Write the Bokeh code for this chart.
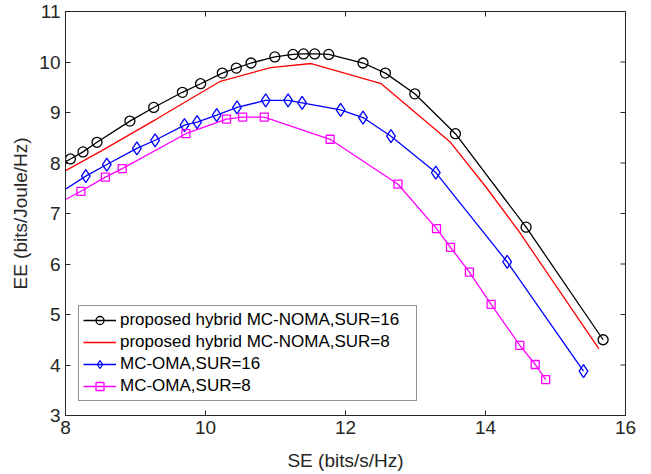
import math
from bokeh.plotting import figure
from bokeh.models import Range1d, FixedTicker, Legend
from bokeh.embed import file_html
from bokeh.resources import INLINE

# ---- data ----
black_x = [7.85, 8.07, 8.25, 8.45, 8.92, 9.26, 9.67, 9.93, 10.24, 10.44, 10.65, 10.99,
           11.25, 11.40, 11.56, 11.76, 12.25, 12.57, 12.99, 13.57, 14.58, 15.68]
black_y = [7.91, 8.08, 8.22, 8.41, 8.83, 9.10, 9.40, 9.57, 9.78, 9.88, 9.98, 10.10,
           10.15, 10.16, 10.16, 10.15, 9.98, 9.78, 9.37, 8.58, 6.73, 4.50]

red_x = [7.9, 8.5, 9.3, 10.2, 10.93, 11.51, 12.51, 13.5, 14.02, 14.48, 15.62]
red_y = [7.77, 8.23, 8.87, 9.61, 9.89, 9.97, 9.57, 8.41, 7.50, 6.64, 4.32]

blue_x = [7.9, 8.29, 8.59, 9.02, 9.28, 9.70, 9.88, 10.16, 10.45, 10.86, 11.18, 11.38,
          11.93, 12.25, 12.65, 13.29, 14.31, 15.40]
blue_y = [7.39, 7.74, 7.97, 8.29, 8.45, 8.75, 8.81, 8.95, 9.10, 9.24, 9.24, 9.19,
          9.05, 8.90, 8.53, 7.81, 6.04, 3.88]

mag_x = [7.9, 8.22, 8.57, 8.81, 9.72, 10.30, 10.53, 10.84, 11.78, 12.75, 13.30, 13.50,
         13.77, 14.08, 14.49, 14.71, 14.86]
mag_y = [7.20, 7.44, 7.72, 7.89, 8.58, 8.87, 8.91, 8.91, 8.47, 7.58, 6.70, 6.33,
         5.84, 5.20, 4.39, 4.01, 3.71]

labels = ["proposed hybrid MC-NOMA,SUR=16", "proposed hybrid MC-NOMA,SUR=8",
          "MC-OMA,SUR=16", "MC-OMA,SUR=8"]
x_ticks = [8, 10, 12, 14, 16]
y_ticks = [3, 4, 5, 6, 7, 8, 9, 10, 11]

FONT = "Liberation Sans"
TXT = "#262626"

p = figure(frame_width=560, frame_height=404, output_backend="svg", toolbar_location=None,
           x_range=Range1d(x_ticks[0], x_ticks[-1]), y_range=Range1d(y_ticks[0], y_ticks[-1]),
           min_border_left=65, min_border_right=16, min_border_top=11, min_border_bottom=57)
p.xgrid.visible = False
p.ygrid.visible = False
p.outline_line_color = TXT
p.outline_line_width = 1
p.background_fill_color = "white"
p.border_fill_color = "white"

lw = 1.3
l1 = p.line(black_x, black_y, color="black", line_width=lw)
m1 = p.scatter(black_x, black_y, marker="circle", size=10, fill_color=None,
               line_color="black", line_width=lw)
l2 = p.line(red_x, red_y, color="#ff0000", line_width=lw)
l3 = p.line(blue_x, blue_y, color="#0000ff", line_width=lw)
m3 = p.scatter(blue_x, blue_y, marker="diamond", size=13, fill_color=None,
               line_color="#0000ff", line_width=lw)
l4 = p.line(mag_x, mag_y, color="#ff00ff", line_width=lw)
m4 = p.scatter(mag_x, mag_y, marker="square", size=8, fill_color=None,
               line_color="#ff00ff", line_width=lw)

# inward ticks on the top and right edges of the box (half of each dash is clipped)
p.scatter(x_ticks, [y_ticks[-1]] * len(x_ticks), marker="dash", size=10,
          angle=math.pi / 2, line_color=TXT, line_width=1)
p.scatter([x_ticks[-1]] * len(y_ticks), y_ticks, marker="dash", size=10,
          line_color=TXT, line_width=1)

for ax, ticks in ((p.xaxis[0], x_ticks), (p.yaxis[0], y_ticks)):
    ax.ticker = FixedTicker(ticks=ticks)
    ax.minor_tick_line_color = None
    ax.major_tick_in = 5
    ax.major_tick_out = 0
    ax.axis_line_color = TXT
    ax.major_tick_line_color = TXT
    ax.major_label_text_font = FONT
    ax.major_label_text_font_size = "19px"
    ax.major_label_text_color = TXT
    ax.axis_label_text_font = FONT
    ax.axis_label_text_font_size = "19px"
    ax.axis_label_text_font_style = "normal"
    ax.axis_label_text_color = TXT

p.xaxis[0].axis_label = "SE (bits/s/Hz)"
p.yaxis[0].axis_label = "EE (bits/Joule/Hz)"
p.xaxis[0].major_label_standoff = 5
p.yaxis[0].major_label_standoff = 5
p.xaxis[0].axis_label_standoff = 13
p.yaxis[0].axis_label_standoff = 5

legend = Legend(items=[(labels[0], [l1, m1]), (labels[1], [l2]),
                       (labels[2], [l3, m3]), (labels[3], [l4, m4])],
                location=(13, 14))
legend.label_text_font = FONT
legend.label_text_font_size = "17px"
legend.label_text_color = "black"
legend.glyph_width = 33
legend.glyph_height = 20
legend.label_height = 20
legend.label_width = 292
legend.spacing = 2
legend.padding = 4
legend.margin = 0
legend.label_standoff = 4
legend.border_line_color = TXT
legend.border_line_width = 1
legend.background_fill_alpha = 1
p.add_layout(legend, "center")

open("out.html", "w").write(file_html(p, INLINE))
